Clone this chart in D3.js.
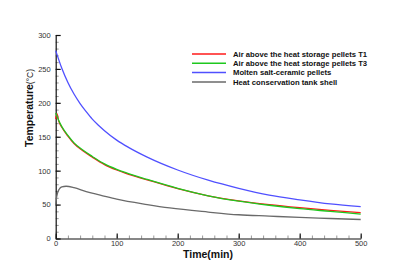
<!DOCTYPE html>
<html>
<head>
<meta charset="utf-8">
<script src="https://d3js.org/d3.v7.min.js"></script>
<style>
  body { margin: 0; background: #fff; }
  svg { display: block; font-family: "Liberation Sans", Arial, sans-serif; }
  .tick text { fill: #333; }
</style>
</head>
<body>
<svg width="411" height="271"></svg>
<script>
// values
const tBlue  = [0, 10, 20, 30, 40, 50, 60, 70, 80, 100, 120, 150, 200, 250, 300, 350, 400, 450, 500];
const vBlue  = [277, 251, 230, 213, 199, 187, 176, 167, 159, 145, 134, 120, 101, 86, 74, 64, 57, 51, 47];
const tGreen = [0, 5, 10, 20, 30, 45, 60, 80, 100, 115, 150, 200, 250, 300, 350, 400, 450, 500];
const vGreen = [185, 174, 165, 152, 141, 130, 121, 110, 102, 97, 87, 74, 63, 55, 49, 44, 40, 36];
const tRed   = [0, 2, 5, 10, 20, 30, 45, 60, 80, 100, 115, 150, 200, 250, 300, 350, 400, 450, 500];
const vRed   = [176, 184, 173, 164, 151, 140, 129, 120, 109, 101, 96, 86.5, 73.5, 63, 55.5, 50, 45.5, 41.5, 38];
const tGray  = [0, 1, 3, 6, 10, 17, 30, 50, 73, 100, 150, 187, 250, 300, 350, 400, 450, 500];
const vGray  = [49, 58, 67, 73, 76, 77, 75, 69, 64, 58, 50, 45, 39, 35, 33, 31, 29.5, 28];

const seriesNames = [
  "Air above the heat storage pellets  T1",
  "Air above the heat storage pellets  T3",
  "Molten salt-ceramic pellets",
  "Heat conservation tank shell"
];
const seriesColors = ["#ff1a1a", "#1ec81e", "#5050ff", "#6a6a6a"];

const svg = d3.select("svg");
const x = d3.scaleLinear().domain([0, 500]).range([55.7, 360.7]);
const y = d3.scaleLinear().domain([0, 300]).range([238.5, 35]);

// minor ticks
svg.append("g")
  .attr("transform", `translate(0,${y(0)})`)
  .call(d3.axisBottom(x).tickValues(d3.range(0, 501, 20)).tickFormat("").tickSize(-3))
  .call(g => g.select(".domain").remove())
  .call(g => g.selectAll("line").attr("stroke", "#999"));
svg.append("g")
  .attr("transform", `translate(${x(0)},0)`)
  .call(d3.axisLeft(y).tickValues(d3.range(0, 301, 10)).tickFormat("").tickSize(-3))
  .call(g => g.select(".domain").remove())
  .call(g => g.selectAll("line").attr("stroke", "#999"));

// major axes
const xAxis = svg.append("g")
  .attr("transform", `translate(0,${y(0)})`)
  .call(d3.axisBottom(x).tickValues([0, 100, 200, 300, 400, 500]).tickSizeInner(-5).tickSizeOuter(0).tickPadding(2));
const yAxis = svg.append("g")
  .attr("transform", `translate(${x(0)},0)`)
  .call(d3.axisLeft(y).tickValues([0, 50, 100, 150, 200, 250, 300]).tickSizeInner(-5).tickSizeOuter(0).tickPadding(5));
[xAxis, yAxis].forEach(a => {
  a.selectAll("text").attr("font-size", 7.5).attr("font-family", "Liberation Sans, Arial, sans-serif");
  a.selectAll("line, path").attr("stroke", "#111").attr("stroke-width", 1.2);
});
yAxis.selectAll("text").attr("dy", "0.32em");

// curves
const lineGen = d3.line().x(d => x(d[0])).y(d => y(d[1])).curve(d3.curveMonotoneX);
const series = [
  d3.zip(tRed, vRed),
  d3.zip(tGreen, vGreen),
  d3.zip(tBlue, vBlue),
  d3.zip(tGray, vGray)
];
series.forEach((s, i) => {
  svg.append("path")
    .datum(s)
    .attr("d", lineGen)
    .attr("fill", "none")
    .attr("stroke", seriesColors[i])
    .attr("stroke-width", 1.3);
});

// legend
const legend = svg.append("g");
const rowY = [54, 63.3, 72.6, 82];
seriesNames.forEach((name, i) => {
  legend.append("line")
    .attr("x1", 192).attr("x2", 226)
    .attr("y1", rowY[i]).attr("y2", rowY[i])
    .attr("stroke", seriesColors[i]).attr("stroke-width", 1.5);
  legend.append("text")
    .attr("x", 233).attr("y", rowY[i] + 2.7)
    .attr("font-size", 7.7).attr("font-weight", "bold")
    .attr("fill", "#111")
    .text(name);
});

// axis titles
svg.append("text")
  .attr("x", 208).attr("y", 258)
  .attr("text-anchor", "middle")
  .attr("font-size", 10.5).attr("font-weight", "bold")
  .attr("fill", "#111")
  .text("Time(min)");

const yt = svg.append("text")
  .attr("transform", "translate(33,147) rotate(-90)")
  .attr("fill", "#111");
yt.append("tspan").attr("font-size", 10.5).attr("font-weight", "bold").text("Temperature");
yt.append("tspan").attr("font-size", 8.5).text("(°C)");
</script>
</body>
</html>
